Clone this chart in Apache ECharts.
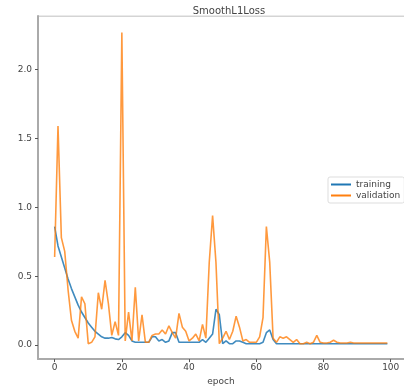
<!DOCTYPE html>
<html><head><meta charset="utf-8">
<script src="https://cdn.jsdelivr.net/npm/echarts@6/dist/echarts.min.js"></script>
<style>html,body{margin:0;padding:0;background:#fff}#c{width:404px;height:391px}</style>
</head><body><div id="c"></div>
<script>
const epochs = Array.from({length:100},(_,i)=>i);
const training = [0.86,0.72,0.64,0.56,0.48,0.41,0.35,0.29,0.24,0.2,
0.16,0.13,0.1,0.08,0.06,0.05,0.05,0.055,0.045,0.04,
0.06,0.09,0.07,0.03,0.02,0.02,0.02,0.02,0.02,0.06,
0.06,0.03,0.04,0.02,0.03,0.09,0.09,0.02,0.02,0.02,
0.02,0.02,0.02,0.02,0.04,0.02,0.05,0.08,0.26,0.22,
0.01,0.03,0.01,0.01,0.03,0.03,0.02,0.01,0.01,0.01,
0.01,0.01,0.02,0.09,0.11,0.04,0.01,0.01,0.01,0.01,
0.01,0.01,0.01,0.01,0.01,0.01,0.01,0.01,0.01,0.01,
0.01,0.01,0.01,0.01,0.01,0.01,0.01,0.01,0.01,0.01,
0.01,0.01,0.01,0.01,0.01,0.01,0.01,0.01,0.01,0.01];
const validation = [0.64,1.59,0.78,0.68,0.4,0.18,0.1,0.05,0.35,0.3,
0.01,0.02,0.06,0.38,0.26,0.47,0.3,0.07,0.17,0.07,
2.27,0.03,0.24,0.03,0.42,0.03,0.22,0.02,0.02,0.07,
0.08,0.08,0.11,0.08,0.14,0.09,0.05,0.23,0.13,0.1,
0.03,0.05,0.08,0.03,0.15,0.05,0.6,0.94,0.6,0.01,
0.05,0.1,0.04,0.1,0.21,0.13,0.03,0.04,0.02,0.02,
0.02,0.06,0.2,0.86,0.6,0.05,0.02,0.06,0.05,0.06,
0.04,0.02,0.04,0.01,0.01,0.02,0.01,0.02,0.07,0.02,
0.015,0.015,0.02,0.035,0.02,0.015,0.015,0.015,0.02,0.015,
0.015,0.015,0.015,0.015,0.015,0.015,0.015,0.015,0.015,0.015];
const xTicks = [0,20,40,60,80,100];
const yTicks = [0,0.5,1.0,1.5,2.0];

const chart = echarts.init(document.getElementById('c'));
const font = 'DejaVu Sans';
chart.setOption({
  animation:false,
  title:{text:'SmoothL1Loss',left:224,top:1,textAlign:'center',textStyle:{fontFamily:font,fontSize:10,fontWeight:'normal',color:'#444'}},
  legend:{orient:'vertical',left:328,top:177,itemWidth:20,itemHeight:2,itemGap:2,padding:[3,4,3,3],
    borderColor:'#ddd',borderWidth:1,borderRadius:2,backgroundColor:'#fff',
    icon:'rect',textStyle:{fontFamily:font,fontSize:9,color:'#444'},data:['training','validation']},
  grid:{left:38,top:16,width:372,height:344},
  xAxis:{type:'value',min:-4.95,max:103.95,name:'epoch',nameLocation:'middle',nameGap:15,
    nameTextStyle:{fontFamily:font,fontSize:9,color:'#444'},
    axisLine:{onZero:false,lineStyle:{color:'#aaa',width:2}},
    axisTick:{customValues:xTicks,length:3,lineStyle:{color:'#555'}},
    axisLabel:{customValues:xTicks,fontFamily:font,fontSize:9,color:'#444',margin:4},
    splitLine:{show:false}},
  yAxis:{type:'value',min:-0.102,max:2.39,
    axisLine:{show:true,onZero:false,lineStyle:{color:'#aaa',width:2}},
    axisTick:{show:true,customValues:yTicks,length:3,lineStyle:{color:'#555'}},
    axisLabel:{customValues:yTicks,fontFamily:font,fontSize:9,color:'#444',margin:6,formatter:v=>v.toFixed(1)},
    splitLine:{show:false}},
  series:[
    {name:'training',type:'line',data:epochs.map((e,i)=>[e,training[i]]),showSymbol:false,
      lineStyle:{color:'#1f77b4',width:1.6,opacity:0.85},itemStyle:{color:'#1f77b4'}},
    {name:'validation',type:'line',data:epochs.map((e,i)=>[e,validation[i]]),showSymbol:false,
      lineStyle:{color:'#ff7f0e',width:1.6,opacity:0.8},itemStyle:{color:'#ff7f0e'}},
    {type:'line',data:[[-4.95,2.39],[103.95,2.39]],showSymbol:false,silent:true,
      lineStyle:{color:'#aaa',width:1.2},z:1}
  ]
});
</script></body></html>
